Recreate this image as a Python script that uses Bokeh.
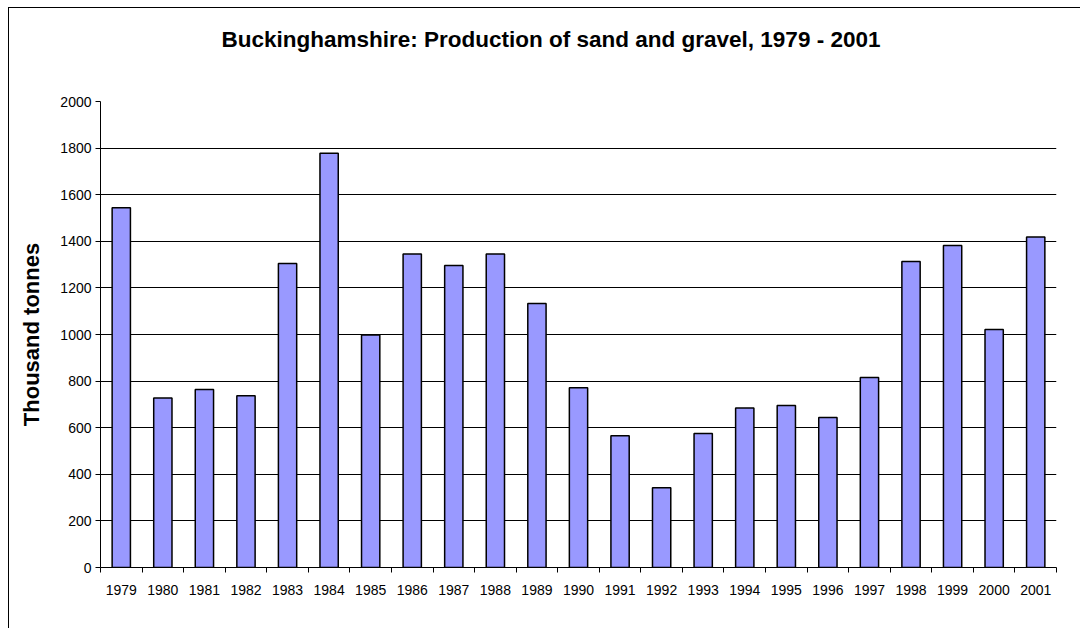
from bokeh.plotting import figure
from bokeh.models import FixedTicker, Range1d, Title
from bokeh.embed import file_html
from bokeh.resources import INLINE

years = [1979, 1980, 1981, 1982, 1983, 1984, 1985, 1986, 1987, 1988, 1989, 1990,
         1991, 1992, 1993, 1994, 1995, 1996, 1997, 1998, 1999, 2000, 2001]
production = [1544, 728, 764, 737, 1305, 1778, 998, 1346, 1296, 1346, 1133, 771,
              565, 342, 575, 685, 695, 644, 815, 1313, 1382, 1021, 1418]
y_ticks = [0, 200, 400, 600, 800, 1000, 1200, 1400, 1600, 1800, 2000]
title_text = "Buckinghamshire: Production of sand and gravel, 1979 - 2001"
y_label = "Thousand tonnes"

FONT = "Liberation Sans"

p = figure(width=1080, height=628, output_backend="svg", toolbar_location=None,
           x_range=Range1d(years[0] - 0.5, years[-1] + 0.5),
           y_range=Range1d(y_ticks[0], y_ticks[-1]),
           min_border_left=100, min_border_right=24, min_border_top=101, min_border_bottom=61,
           title=None)
p.styles = {
    "background": "linear-gradient(#000,#000) 8px 7px / 1px 100% no-repeat, "
                  "linear-gradient(#000,#000) 8px 7px / 100% 1px no-repeat, #ffffff"
}

# spacer (closest to the frame), then the visible title above it
spacer = Title(text=" ", text_font_size="10px", standoff=35, text_color="#FFFFFF")
main_title = Title(text=title_text, text_font=FONT, text_font_size="22.5px",
                   text_font_style="bold", align="left", offset=121,
                   vertical_align="top", standoff=0, text_color="#000000")
p.add_layout(spacer, "above")
p.add_layout(main_title, "above")

p.vbar(x=years, top=production, width=0.44, bottom=0,
       fill_color="#9999FF", line_color="#000000", line_width=1.5)

p.outline_line_color = None
p.background_fill_color = "#FFFFFF"
p.border_fill_color = None

p.xgrid.grid_line_color = None
p.ygrid.grid_line_color = "#000000"
p.ygrid.grid_line_width = 1
p.ygrid.ticker = FixedTicker(ticks=y_ticks)

xa = p.xaxis[0]
xa.ticker = FixedTicker(ticks=years, minor_ticks=[y - 0.5 for y in years] + [years[-1] + 0.5])
xa.major_label_overrides = {y: str(y) for y in years}
xa.major_tick_out = 0
xa.major_tick_in = 0
xa.minor_tick_out = 5
xa.minor_tick_in = 0
xa.minor_tick_line_color = "#000000"
xa.axis_line_color = "#000000"
xa.major_label_text_font = FONT
xa.major_label_text_font_size = "14px"
xa.major_label_text_color = "#000000"
xa.major_label_standoff = 12

ya = p.yaxis[0]
ya.ticker = FixedTicker(ticks=y_ticks, minor_ticks=[])
ya.major_tick_out = 5
ya.major_tick_in = 0
ya.major_tick_line_color = "#000000"
ya.axis_line_color = "#000000"
ya.major_label_text_font = FONT
ya.major_label_text_font_size = "14px"
ya.major_label_text_color = "#000000"
ya.major_label_standoff = 4
ya.axis_label = y_label
ya.axis_label_text_font = FONT
ya.axis_label_text_font_size = "22px"
ya.axis_label_text_font_style = "bold"
ya.axis_label_text_color = "#000000"
ya.axis_label_standoff = 13

open("out.html", "w").write(file_html(p, INLINE))
